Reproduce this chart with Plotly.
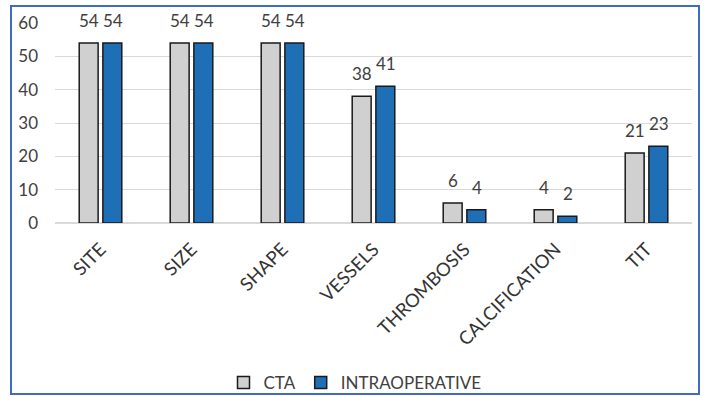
import plotly.graph_objects as go

categories = ["SITE", "SIZE", "SHAPE", "VESSELS", "THROMBOSIS", "CALCIFICATION", "TIT"]
cta = [54, 54, 54, 38, 6, 4, 21]
intraop = [54, 54, 54, 41, 4, 2, 23]
yticks = [0, 10, 20, 30, 40, 50, 60]

FONT = "Lato, 'Open Sans', sans-serif"
TXT = "#404040"

fig = go.Figure()
fig.add_trace(go.Bar(
    name="CTA", x=categories, y=cta,
    marker=dict(color="#d0d0d0", line=dict(color="#1a1a1a", width=1.5)),
))
fig.add_trace(go.Bar(
    name="INTRAOPERATIVE", x=categories, y=intraop,
    marker=dict(color="#1f6fb6", line=dict(color="#1a1a1a", width=1.5)),
))

# value labels above bars
for series, shift in ((cta, -12), (intraop, 12)):
    for c, v in zip(categories, series):
        fig.add_annotation(x=c, y=v, text=str(v), showarrow=False, xshift=shift, yshift=10,
                           yanchor="bottom", font=dict(family=FONT, size=17, color=TXT))

L, R, T, B = 55, 13, 23, 173
W, H = 705, 396
pw, ph = W - L - R, H - T - B

def px(x):
    return (x - L) / pw

def py(y):
    return (H - B - y) / ph

fig.update_layout(
    width=W, height=H,
    margin=dict(l=L, r=R, t=T, b=B, autoexpand=False),
    paper_bgcolor="white", plot_bgcolor="white",
    barmode="group", bargap=0.48, bargroupgap=0.2,
    font=dict(family=FONT, color=TXT, size=15),
    showlegend=True,
    legend=dict(orientation="h", x=px(355), y=py(383), xanchor="center", yanchor="middle",
                font=dict(family=FONT, size=17, color=TXT), itemwidth=30,
                bgcolor="rgba(0,0,0,0)"),
    xaxis=dict(tickangle=-45, tickfont=dict(family=FONT, size=18.5, color="#333333"),
               showgrid=False, showline=False, ticks="", automargin=False,
               ticklabelstandoff=11),
    yaxis=dict(range=[0, 60], tickvals=yticks, showgrid=True, gridcolor="#d9d9d9", gridwidth=1,
               zeroline=True, zerolinecolor="#d9d9d9", showline=False, automargin=False,
               tickfont=dict(family=FONT, size=17, color=TXT), ticklabelstandoff=16),
    shapes=[dict(type="rect", xref="paper", yref="paper",
                 x0=px(11), x1=px(699), y0=py(394), y1=py(6),
                 line=dict(color="#3d6cc0", width=2), fillcolor="rgba(0,0,0,0)", layer="below")],
)

fig.write_html("out.html")
